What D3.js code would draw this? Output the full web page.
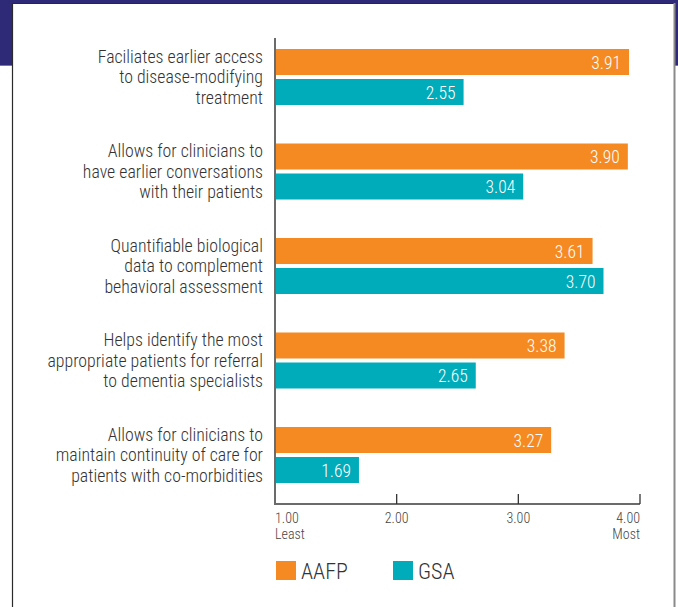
<!DOCTYPE html>
<html><head><meta charset="utf-8">
<script src="https://cdn.jsdelivr.net/npm/d3@7"></script>
<style>
html,body{margin:0;padding:0;background:#fff;}
svg{display:block;}
text{font-family:"Roboto Condensed","Liberation Sans Narrow","Arial Narrow",sans-serif;font-weight:300;}
</style></head>
<body>
<svg id="chart" width="678" height="607"></svg>
<script>
const categories = [
  ["Faciliates earlier access","to disease-modifying","treatment"],
  ["Allows for clinicians to","have earlier conversations","with their patients"],
  ["Quantifiable biological","data to complement","behavioral assessment"],
  ["Helps identify the most","appropriate patients for referral","to dementia specialists"],
  ["Allows for clinicians to","maintain continuity of care for","patients with co-morbidities"]
];
const seriesNames = ["AAFP","GSA"];
const aafp = [3.91, 3.90, 3.61, 3.38, 3.27];
const gsa  = [2.55, 3.04, 3.70, 2.65, 1.69];
const tickValues = [1,2,3,4];
const tickLabels = ["1.00","2.00","3.00","4.00"];
const tickSubLabels = ["Least","","","Most"];
const colors = ["#F58A22","#00ABBA"];

const svg = d3.select("#chart");
svg.append("rect").attr("x",0).attr("y",0).attr("width",678).attr("height",65).attr("fill","#2E2A78");
svg.append("rect").attr("x",0).attr("y",65).attr("width",678).attr("height",1).attr("fill","#D9534F");
svg.append("rect").attr("x",12.5).attr("y",3.5).attr("width",662).attr("height",620).attr("fill","#fff");
svg.append("line").attr("x1",12.5).attr("x2",12.5).attr("y1",3).attr("y2",607).attr("stroke","#2a2a2a").attr("stroke-width",1.2);
svg.append("line").attr("x1",12).attr("x2",675).attr("y1",3.5).attr("y2",3.5).attr("stroke","#2a2a2a").attr("stroke-width",1);
svg.append("line").attr("x1",674.5).attr("x2",674.5).attr("y1",3).attr("y2",607).attr("stroke","#8a8a8a").attr("stroke-width",2);

const x = d3.scaleLinear().domain([1,4]).range([275,640]);
const y = d3.scaleBand().domain(d3.range(categories.length)).range([49, 49+5*94.5]);
const barH = 26, barGap = 4;

const data = categories.map((c,i)=>({i, vals:[aafp[i], gsa[i]]}));
const g = svg.append("g");
data.forEach(d=>{
  d.vals.forEach((v,k)=>{
    const by = y(d.i) + k*(barH+barGap);
    g.append("rect").attr("x",x(1)).attr("y",by).attr("width",x(v)-x(1)).attr("height",barH).attr("fill",colors[k]);
    g.append("text").attr("x",x(v)-8).attr("y",by+barH/2+6.5).attr("text-anchor","end")
      .attr("fill","#fff").attr("font-size",17.5).text(v.toFixed(2));
  });
  const cy = y(d.i) + (2*barH+barGap)/2;
  const t = g.append("text").attr("text-anchor","end").attr("fill","#333").attr("font-size",17.8);
  categories[d.i].forEach((line,j)=>{
    t.append("tspan").attr("x",263).attr("y",cy + (j-1)*20.5 + 6).text(line);
  });
});

const axisY = 504;
svg.append("line").attr("x1",x(1)).attr("x2",x(1)).attr("y1",38).attr("y2",axisY+1).attr("stroke","#6b6b6b").attr("stroke-width",2);
const xAxis = d3.axisBottom(x).tickValues(tickValues).tickSize(0).tickFormat("");
const ax = svg.append("g").attr("transform",`translate(0,${axisY})`).call(xAxis);
ax.select(".domain").attr("stroke","#6b6b6b").attr("stroke-width",2).attr("d",`M${x(1)},0H${x(4)}`);
tickValues.forEach((tv,i)=>{
  if(i>0) svg.append("line").attr("x1",x(tv)).attr("x2",x(tv)).attr("y1",axisY-10).attr("y2",axisY).attr("stroke","#333").attr("stroke-width",1.3);
  const anchor = i===0?"start":(i===tickValues.length-1?"end":"middle");
  svg.append("text").attr("x",x(tv)).attr("y",523).attr("text-anchor",anchor).attr("fill","#444").attr("font-size",14).text(tickLabels[i]);
  if(tickSubLabels[i]) svg.append("text").attr("x",x(tv)).attr("y",539).attr("text-anchor",anchor).attr("fill","#444").attr("font-size",14).text(tickSubLabels[i]);
});

const legX = [276, 393];
seriesNames.forEach((n,k)=>{
  svg.append("rect").attr("x",legX[k]).attr("y",561).attr("width",20).attr("height",19).attr("fill",colors[k]);
  svg.append("text").attr("x",legX[k]+25).attr("y",579).attr("fill","#333").attr("font-size",22).text(n);
});
</script>
</body></html>
